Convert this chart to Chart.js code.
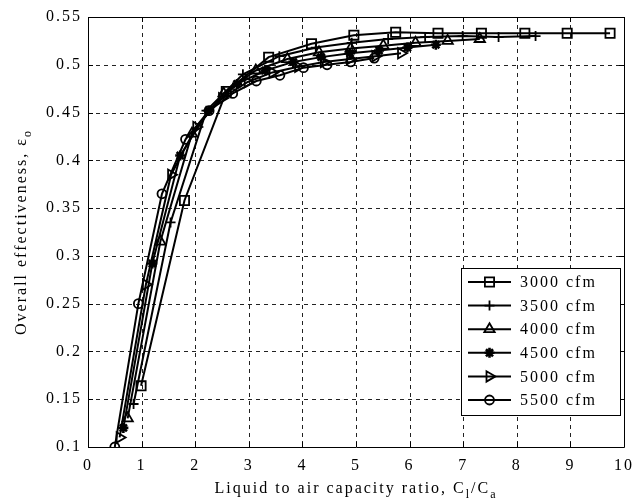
<!DOCTYPE html>
<html lang="en">
<head>
  <meta charset="UTF-8">
  <title>Overall effectiveness vs capacity ratio</title>
  <script src="https://cdn.jsdelivr.net/npm/chart.js"></script>
  <style>
    html, body { margin: 0; padding: 0; background: #fff; }
    #wrap { width: 641px; height: 503px; }
  </style>
</head>
<body>
  <div id="wrap"><canvas id="effChart" width="641" height="503"></canvas></div>
  <script>
    // values
    var seriesLabels = ['3000 cfm', '3500 cfm', '4000 cfm', '4500 cfm', '5000 cfm', '5500 cfm'];

    var ratio3000 = [0.99, 1.80, 2.58, 3.37, 4.17, 4.96, 5.74, 6.53, 7.34, 8.15, 8.94, 9.74];
    var eff3000 = [0.164, 0.358, 0.472, 0.508, 0.522, 0.531, 0.534, 0.533, 0.533, 0.533, 0.533, 0.533];

    var ratio3500 = [0.85, 1.54, 2.21, 2.89, 3.57, 4.25, 4.92, 5.60, 6.29, 6.99, 7.66, 8.35];
    var eff3500 = [0.145, 0.335, 0.452, 0.490, 0.509, 0.518, 0.523, 0.527, 0.529, 0.530, 0.529, 0.530];

    var ratio4000 = [0.74, 1.35, 1.94, 2.53, 3.13, 3.72, 4.31, 4.90, 5.51, 6.11, 6.71, 7.31];
    var eff4000 = [0.130, 0.315, 0.428, 0.470, 0.494, 0.506, 0.513, 0.517, 0.520, 0.523, 0.525, 0.527];

    var ratio4500 = [0.66, 1.20, 1.72, 2.25, 2.78, 3.31, 3.83, 4.35, 4.89, 5.43, 5.96, 6.49];
    var eff4500 = [0.120, 0.292, 0.405, 0.452, 0.480, 0.494, 0.503, 0.508, 0.512, 0.515, 0.518, 0.521];

    var ratio5000 = [0.59, 1.08, 1.55, 2.02, 2.50, 2.98, 3.44, 3.92, 4.40, 4.89, 5.36, 5.84];
    var eff5000 = [0.110, 0.270, 0.385, 0.435, 0.465, 0.482, 0.492, 0.498, 0.503, 0.506, 0.509, 0.512];

    var ratio5500 = [0.50, 0.94, 1.38, 1.82, 2.26, 2.70, 3.14, 3.58, 4.02, 4.46, 4.90, 5.34];
    var eff5500 = [0.100, 0.250, 0.365, 0.422, 0.452, 0.470, 0.483, 0.489, 0.497, 0.500, 0.503, 0.507];

    var xTicks = [0, 1, 2, 3, 4, 5, 6, 7, 8, 9, 10];
    var yTicks = [0.1, 0.15, 0.2, 0.25, 0.3, 0.35, 0.4, 0.45, 0.5, 0.55];

    var allRatios = [ratio3000, ratio3500, ratio4000, ratio4500, ratio5000, ratio5500];
    var allEffs = [eff3000, eff3500, eff4000, eff4500, eff5000, eff5500];

    var markers = [
      { pointStyle: 'rect', radius: 6.5, rotation: 0, width: 1.8 },
      { pointStyle: 'cross', radius: 5, rotation: 0, width: 1.8 },
      { pointStyle: 'triangle', radius: 6, rotation: 0, width: 1.8 },
      { pointStyle: 'star', radius: 5, rotation: 0, width: 2.6 },
      { pointStyle: 'triangle', radius: 6, rotation: 90, width: 1.8 },
      { pointStyle: 'circle', radius: 4.5, rotation: 0, width: 1.8 }
    ];

    var FONT = '"Liberation Serif", "Times New Roman", serif';
    var SPACING = '2px';

    var datasets = seriesLabels.map(function (label, i) {
      var pts = allRatios[i].map(function (x, k) {
        return { x: x, y: allEffs[i][k] };
      });
      return {
        label: label,
        data: pts,
        showLine: true,
        borderColor: '#000',
        borderWidth: 2,
        backgroundColor: 'rgba(0,0,0,0)',
        pointStyle: markers[i].pointStyle,
        pointRadius: markers[i].radius,
        pointRotation: markers[i].rotation,
        pointBorderColor: '#000',
        pointBackgroundColor: 'rgba(0,0,0,0)',
        pointBorderWidth: markers[i].width,
        pointHoverRadius: markers[i].radius
      };
    });

    // spaced text like the original figure
    var spacingPlugin = {
      id: 'spacing',
      beforeDraw: function (chart) {
        chart.ctx.letterSpacing = SPACING;
      }
    };

    // dashed grid under the data
    var dashGrid = {
      id: 'dashGrid',
      beforeDatasetsDraw: function (chart) {
        var ctx = chart.ctx;
        var a = chart.chartArea;
        ctx.save();
        ctx.strokeStyle = '#222';
        ctx.lineWidth = 1;
        ctx.setLineDash([4, 4]);
        ctx.beginPath();
        xTicks.forEach(function (v) {
          var px = Math.round(chart.scales.x.getPixelForValue(v)) + 0.5;
          ctx.moveTo(px, a.top);
          ctx.lineTo(px, a.bottom);
        });
        yTicks.forEach(function (v) {
          var py = Math.round(chart.scales.y.getPixelForValue(v)) + 0.5;
          ctx.moveTo(a.left, py);
          ctx.lineTo(a.right, py);
        });
        ctx.stroke();
        ctx.restore();
      }
    };

    // axes box, inward ticks and the two axis titles with subscripts
    var framePlugin = {
      id: 'frame',
      afterDraw: function (chart) {
        var ctx = chart.ctx;
        var a = chart.chartArea;
        var xs = chart.scales.x;
        var ys = chart.scales.y;
        ctx.save();
        ctx.strokeStyle = '#000';
        ctx.lineWidth = 1;
        ctx.beginPath();
        ctx.rect(Math.round(a.left) + 0.5, Math.round(a.top) + 0.5,
          Math.round(a.right - a.left), Math.round(a.bottom - a.top));
        ctx.stroke();

        ctx.beginPath();
        xTicks.forEach(function (v) {
          var px = Math.round(xs.getPixelForValue(v)) + 0.5;
          ctx.moveTo(px, a.bottom); ctx.lineTo(px, a.bottom - 5);
          ctx.moveTo(px, a.top); ctx.lineTo(px, a.top + 5);
        });
        yTicks.forEach(function (v) {
          var py = Math.round(ys.getPixelForValue(v)) + 0.5;
          ctx.moveTo(a.left, py); ctx.lineTo(a.left + 5, py);
          ctx.moveTo(a.right, py); ctx.lineTo(a.right - 5, py);
        });
        ctx.stroke();

        ctx.fillStyle = '#000';
        ctx.letterSpacing = SPACING;
        ctx.textBaseline = 'alphabetic';

        // x title
        drawParts(ctx, [
          { t: 'Liquid to air capacity ratio, C', size: 16, dy: 0 },
          { t: 'l', size: 12, dy: 5 },
          { t: '/C', size: 16, dy: 0 },
          { t: 'a', size: 12, dy: 5 }
        ], (a.left + a.right) / 2, 493);

        // y title, rotated
        ctx.save();
        ctx.translate(20, (a.top + a.bottom) / 2);
        ctx.rotate(-Math.PI / 2);
        drawParts(ctx, [
          { t: 'Overall effectiveness, \u03b5', size: 16, dy: 0 },
          { t: 'o', size: 12, dy: 5 }
        ], 0, 6);
        ctx.restore();
        ctx.restore();
      }
    };

    function drawParts(ctx, parts, cx, baseY) {
      var total = 0;
      parts.forEach(function (p) {
        ctx.font = p.size + 'px ' + FONT;
        p.w = ctx.measureText(p.t).width;
        total += p.w;
      });
      var x = cx - total / 2;
      ctx.textAlign = 'left';
      parts.forEach(function (p) {
        ctx.font = p.size + 'px ' + FONT;
        ctx.fillText(p.t, x, baseY + p.dy);
        x += p.w;
      });
    }

    // legend box inside the plot, bottom right
    var boxLegend = {
      id: 'boxLegend',
      afterDraw: function (chart) {
        var ctx = chart.ctx;
        var left = 461, top = 268, right = 620, bottom = 415;
        var step = 23.6;
        ctx.save();
        ctx.letterSpacing = SPACING;
        ctx.fillStyle = '#fff';
        ctx.fillRect(left, top, right - left, bottom - top);
        ctx.strokeStyle = '#000';
        ctx.lineWidth = 1;
        ctx.strokeRect(left + 0.5, top + 0.5, right - left, bottom - top);

        chart.data.datasets.forEach(function (ds, i) {
          var y = top + 14 + i * step;
          ctx.strokeStyle = '#000';
          ctx.lineWidth = 2;
          ctx.beginPath();
          ctx.moveTo(468, y);
          ctx.lineTo(511, y);
          ctx.stroke();
          ctx.lineWidth = ds.pointBorderWidth;
          ctx.fillStyle = 'rgba(0,0,0,0)';
          Chart.helpers.drawPoint(ctx, {
            pointStyle: ds.pointStyle,
            radius: ds.pointRadius,
            rotation: ds.pointRotation,
            borderWidth: ds.pointBorderWidth
          }, 489.5, y);
          ctx.fillStyle = '#000';
          ctx.font = '16px ' + FONT;
          ctx.textAlign = 'left';
          ctx.textBaseline = 'middle';
          ctx.fillText(ds.label, 520, y + 1);
        });
        ctx.restore();
      }
    };

    new Chart(document.getElementById('effChart'), {
      type: 'scatter',
      data: { datasets: datasets },
      options: {
        responsive: false,
        animation: false,
        devicePixelRatio: 1,
        layout: { padding: { top: 17, right: 11, left: 0, bottom: 0 } },
        plugins: {
          legend: { display: false },
          tooltip: { enabled: false }
        },
        scales: {
          x: {
            type: 'linear',
            min: 0,
            max: 10,
            afterFit: function (scale) { scale.height = 56; },
            afterBuildTicks: function (scale) {
              scale.ticks = xTicks.map(function (v) { return { value: v }; });
            },
            grid: { display: false, drawTicks: false },
            border: { display: false },
            ticks: {
              color: '#000',
              padding: 9,
              maxRotation: 0,
              font: { family: FONT, size: 16 },
              callback: function (v) { return String(v); }
            }
          },
          y: {
            type: 'linear',
            min: 0.1,
            max: 0.55,
            afterFit: function (scale) { scale.width = 88; },
            afterBuildTicks: function (scale) {
              scale.ticks = yTicks.map(function (v) { return { value: v }; });
            },
            grid: { display: false, drawTicks: false },
            border: { display: false },
            ticks: {
              color: '#000',
              padding: 6,
              font: { family: FONT, size: 16 },
              callback: function (v) { return String(parseFloat(v.toFixed(2))); }
            }
          }
        }
      },
      plugins: [spacingPlugin, dashGrid, framePlugin, boxLegend]
    });
  </script>
</body>
</html>
